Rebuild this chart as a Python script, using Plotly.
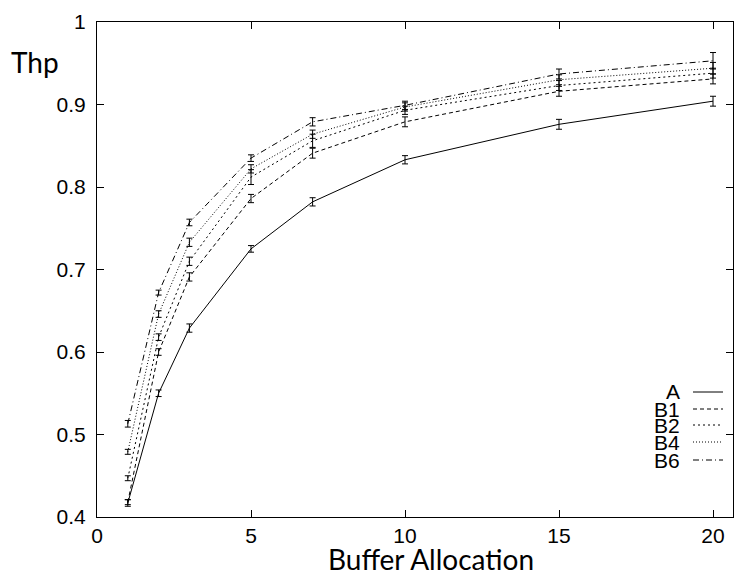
import plotly.graph_objects as go

# ---- data ----
buffer_alloc = [1, 2, 3, 5, 7, 10, 15, 20]
series_names = ["A", "B1", "B2", "B4", "B6"]
thp_A = [0.417, 0.550, 0.629, 0.725, 0.782, 0.833, 0.876, 0.904]
thp_B1 = [0.418, 0.600, 0.691, 0.786, 0.841, 0.879, 0.916, 0.931]
thp_B2 = [0.447, 0.618, 0.710, 0.812, 0.856, 0.893, 0.923, 0.938]
thp_B4 = [0.479, 0.646, 0.733, 0.822, 0.864, 0.897, 0.930, 0.944]
thp_B6 = [0.513, 0.672, 0.757, 0.835, 0.879, 0.899, 0.937, 0.953]
err_A = [0.004, 0.004, 0.005, 0.004, 0.005, 0.005, 0.006, 0.006]
err_B1 = [0.003, 0.004, 0.005, 0.005, 0.006, 0.006, 0.006, 0.006]
err_B2 = [0.003, 0.004, 0.005, 0.009, 0.008, 0.005, 0.006, 0.006]
err_B4 = [0.003, 0.004, 0.005, 0.005, 0.005, 0.005, 0.006, 0.007]
err_B6 = [0.004, 0.003, 0.004, 0.004, 0.005, 0.005, 0.006, 0.010]
x_ticks = [0, 5, 10, 15, 20]
y_ticks = [0.4, 0.5, 0.6, 0.7, 0.8, 0.9, 1.0]
y_ticklabels = ["0.4", "0.5", "0.6", "0.7", "0.8", "0.9", "1"]

values = [thp_A, thp_B1, thp_B2, thp_B4, thp_B6]
errors = [err_A, err_B1, err_B2, err_B4, err_B6]
dashes = ["solid", "4px,3px", "2px,3px", "1px,2px", "6px,3px,1px,3px"]

W, H = 734, 573
L, R, T, B = 97, 733, 22, 517


def px(xp):
    return (xp - L) / (R - L)


def py(yp):
    return (B - yp) / (B - T)


fig = go.Figure()
for name, v, e, d in zip(series_names, values, errors, dashes):
    fig.add_trace(go.Scatter(
        x=buffer_alloc, y=v, name=name, mode="lines",
        line=dict(color="black", width=1, dash=d),
        error_y=dict(type="data", array=e, visible=True, color="black",
                     thickness=1, width=3),
        showlegend=False,
    ))

# manual legend (text left, sample right)
legend_y = [392, 409, 425, 442, 460]
for name, d, yp in zip(series_names, dashes, legend_y):
    fig.add_annotation(x=px(682), y=py(yp), xref="paper", yref="paper",
                       text=name, showarrow=False, xanchor="right",
                       yanchor="middle",
                       font=dict(family="Liberation Sans", size=21,
                                 color="black"))
    fig.add_shape(type="line", xref="paper", yref="paper",
                  x0=px(693), x1=px(723), y0=py(yp), y1=py(yp),
                  line=dict(color="black", width=1, dash=d))

fig.add_annotation(x=px(431), y=py(559), xref="paper", yref="paper",
                   text="Buffer Allocation", showarrow=False,
                   xanchor="center", yanchor="middle",
                   font=dict(family="Lato", size=28, color="black"))
fig.add_annotation(x=px(35), y=py(62), xref="paper", yref="paper",
                   text="Thp", showarrow=False,
                   xanchor="center", yanchor="middle",
                   font=dict(family="Lato", size=28, color="black"))

fig.update_layout(
    width=W, height=H,
    margin=dict(l=L, r=W - R, t=T, b=H - B, pad=0),
    paper_bgcolor="white", plot_bgcolor="white",
    font=dict(family="Liberation Sans", size=21, color="black"),
    xaxis=dict(range=[0, (R - L) / 30.8], tickvals=x_ticks,
               ticks="inside", ticklen=7, tickcolor="black",
               showline=True, linecolor="black", linewidth=1,
               mirror="allticks", showgrid=False, zeroline=False,
               ticklabelstandoff=0),
    yaxis=dict(range=[0.4, 1.0], tickvals=y_ticks, ticktext=y_ticklabels,
               ticks="inside", ticklen=7, tickcolor="black",
               showline=True, linecolor="black", linewidth=1,
               mirror="allticks", showgrid=False, zeroline=False,
               ticklabelstandoff=6),
)

fig.write_html(
    "out.html",
    config={"displayModeBar": False},
    post_script="document.body.style.margin='0px';"
                "document.body.style.overflow='hidden';",
)
